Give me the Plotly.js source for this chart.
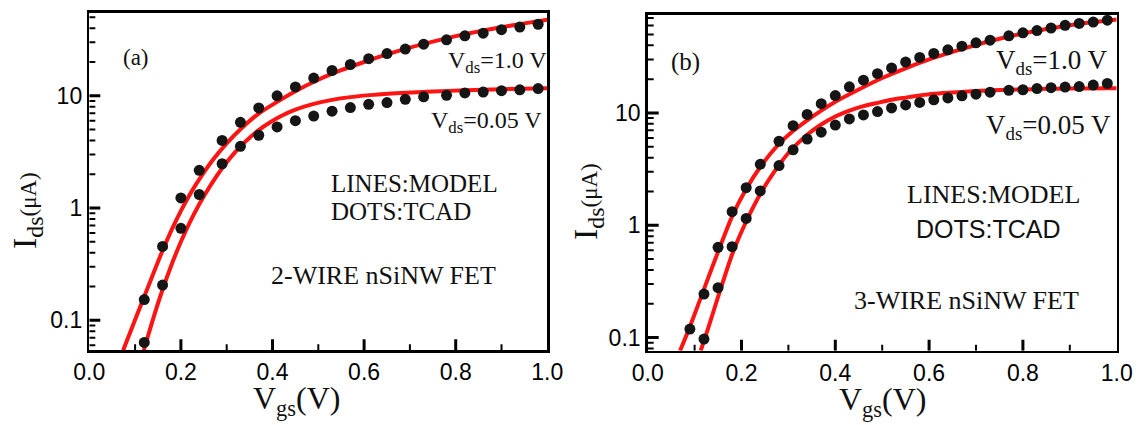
<!DOCTYPE html>
<html><head><meta charset="utf-8">
<script src="https://cdn.plot.ly/plotly-3.0.1.min.js"></script>
<style>html,body{margin:0;padding:0;background:#fff;} #chart{width:1141px;height:425px;}</style>
</head><body><div id="chart"></div>
<script>
// ---------- Panel (a): 2-WIRE nSiNW FET ----------
const vgsA_dots = [0.12,0.16,0.20,0.24,0.29,0.33,0.37,0.41,0.45,0.49,0.53,0.57,0.61,0.65,0.69,0.73,0.78,0.82,0.86,0.90,0.94,0.98];
const idsA_vds1_dots = [0.153,0.455,1.23,2.17,4.0,5.8,7.8,10.0,12.0,14.4,16.8,19.0,21.4,23.8,26.1,28.8,31.5,34.2,36.1,38.8,41.0,43.4];
const idsA_vds005_dots = [0.0634,0.206,0.66,1.32,2.48,3.55,4.45,5.28,6.0,6.6,7.3,7.85,8.4,8.7,9.3,9.8,10.1,10.6,10.8,11.1,11.3,11.6];
const vgsA_model_vds1 = [0.074,0.10,0.12,0.14,0.16,0.18,0.20,0.22,0.24,0.27,0.30,0.33,0.37,0.41,0.45,0.50,0.55,0.60,0.65,0.70,0.75,0.80,0.85,0.90,0.95,1.00];
const idsA_model_vds1 = [0.054,0.101,0.163,0.262,0.418,0.641,0.944,1.33,1.80,2.69,3.77,5.04,6.95,8.83,11.0,13.9,16.9,20.0,23.4,26.9,30.4,34.0,37.5,40.8,44.2,47.6];
const vgsA_model_vds005 = [0.119,0.14,0.16,0.18,0.20,0.22,0.24,0.265,0.29,0.31,0.33,0.35,0.37,0.395,0.42,0.45,0.49,0.53,0.57,0.62,0.68,0.75,0.82,0.90,1.00];
const idsA_model_vds005 = [0.054,0.105,0.188,0.316,0.501,0.752,1.08,1.60,2.26,2.87,3.54,4.23,4.95,5.81,6.64,7.52,8.47,9.20,9.73,10.19,10.57,10.92,11.19,11.44,11.65];

// ---------- Panel (b): 3-WIRE nSiNW FET ----------
const vgsB_dots_vds1 = [0.09,0.12,0.15,0.18,0.21,0.24,0.28,0.31,0.34,0.37,0.40,0.43,0.46,0.49,0.52,0.55,0.58,0.61,0.64,0.67,0.70,0.73,0.77,0.80,0.83,0.86,0.89,0.92,0.95,0.98];
const idsB_vds1_dots = [0.119,0.244,0.637,1.32,2.16,3.49,5.6,7.7,9.7,12.1,14.3,17.1,19.6,22.4,25.2,28.4,31.2,33.9,36.5,39.3,42.1,44.5,48.6,51.7,54.2,57.1,60.3,62.7,64.5,67.0];
const vgsB_dots_vds005 = [0.12,0.15,0.18,0.21,0.24,0.28,0.31,0.34,0.37,0.40,0.43,0.46,0.49,0.52,0.55,0.58,0.61,0.64,0.67,0.70,0.73,0.77,0.80,0.83,0.86,0.89,0.92,0.95,0.98];
const idsB_vds005_dots = [0.097,0.278,0.644,1.15,2.02,3.4,4.7,5.85,6.75,7.8,8.85,9.6,10.3,11.1,11.8,12.4,13.1,13.6,14.2,14.7,15.3,15.9,16.1,16.5,16.8,17.0,17.2,17.7,18.3];
const vgsB_model_vds1 = [0.069,0.09,0.12,0.15,0.18,0.21,0.24,0.28,0.31,0.34,0.37,0.40,0.45,0.50,0.55,0.60,0.65,0.70,0.75,0.80,0.85,0.90,0.95,1.00];
const idsB_model_vds1 = [0.0764,0.125,0.27,0.58,1.2,2.1,3.3,5.3,6.9,8.6,10.5,12.6,16.2,20.5,25.0,30.0,35.0,40.3,45.8,51.0,56.0,60.5,64.5,68.0];
const vgsB_model_vds005 = [0.113,0.13,0.15,0.18,0.21,0.24,0.27,0.30,0.34,0.37,0.40,0.43,0.46,0.49,0.52,0.55,0.58,0.61,0.65,0.70,0.75,0.80,0.85,0.90,1.00];
const idsB_model_vds005 = [0.0764,0.125,0.23,0.55,1.08,1.9,3.0,4.4,6.4,7.9,9.3,10.5,11.5,12.3,13.1,13.7,14.3,14.8,15.2,15.7,16.0,16.2,16.4,16.5,16.6];

// ---------- Texts & ticks ----------
const panelLabels = ['(a)','(b)'];
const vdsLabels = ['V<sub>ds</sub>=1.0 V','V<sub>ds</sub>=0.05 V'];
const legendLines = ['LINES:MODEL','DOTS:TCAD'];
const deviceLabels = ['2-WIRE nSiNW FET','3-WIRE nSiNW FET'];
const xTitle = 'V<sub>gs</sub>(V)';
const yTitle = 'I<sub>ds</sub><span style="font-size:23px">(μA)</span>';
const xMajorTicks = [0,0.2,0.4,0.6,0.8,1.0];
const yMajorTicks = [0.1,1,10];

const W=1141,H=425;
const px=x=>x/W, py=y=>1-y/H;
const SERIF='"Liberation Serif","Times New Roman",serif';
const SANS='Arial,"Liberation Sans",sans-serif';
const RED='#ff1414';
const DOT='#151515';
const TICKC='#000000';

// minor tick positions (axis decoration)
const xMinorTicks=[]; for(let i=1;i<10;i+=2) xMinorTicks.push(i/10);
const yMinorTicks=[]; [0.01,0.1,1,10].forEach(d=>{for(let k=2;k<=9;k++) yMinorTicks.push(+(k*d).toPrecision(3));});

const domAx=[89.3/W,547.3/W], domAy=[1-350.3/H,1-12.7/H];
const domBx=[647.7/W,1116.7/W], domBy=[1-350.7/H,1-14.7/H];
const rA=[Math.log10(0.054),Math.log10(55)], rB=[Math.log10(0.0764),Math.log10(75)];
const hA=(domAy[1]-domAy[0])*H, wA=(domAx[1]-domAx[0])*W;
const hB=(domBy[1]-domBy[0])*H, wB=(domBx[1]-domBx[0])*W;

// inside tick marks as line traces built from the tick arrays (axis decoration)
function tickTrace(xa,ya,range,plotW,plotH,major){
  const xs=[],ys=[];
  const yb=Math.pow(10,range[0]);
  const dec=plotH/(range[1]-range[0]);
  const addX=(v,len)=>{xs.push(v,v,null);ys.push(yb,yb*Math.pow(10,len/dec),null);};
  const addY=(v,len)=>{if(Math.log10(v)<range[0]||Math.log10(v)>range[1])return;xs.push(0,len/plotW,null);ys.push(v,v,null);};
  if(major){xMajorTicks.slice(1,-1).forEach(v=>addX(v,11));yMajorTicks.forEach(v=>addY(v,11));}
  else{xMinorTicks.forEach(v=>addX(v,6));yMinorTicks.forEach(v=>addY(v,6));}
  return {x:xs,y:ys,xaxis:xa,yaxis:ya,mode:'lines',line:{color:TICKC,width:major?3:2},connectgaps:false,hoverinfo:'skip',showlegend:false};
}

function lineTrace(x,y,xa,ya){return {x:x,y:y,xaxis:xa,yaxis:ya,mode:'lines',line:{color:RED,width:4,shape:'spline',smoothing:0.6},hoverinfo:'skip',showlegend:false};}
function dotTrace(x,y,xa,ya){return {x:x,y:y,xaxis:xa,yaxis:ya,mode:'markers',marker:{color:DOT,size:11},showlegend:false};}

const traces = [
  tickTrace('x','y',rA,wA,hA,true),
  tickTrace('x','y',rA,wA,hA,false),
  tickTrace('x2','y2',rB,wB,hB,true),
  tickTrace('x2','y2',rB,wB,hB,false),
  lineTrace(vgsA_model_vds1,idsA_model_vds1,'x','y'),
  lineTrace(vgsA_model_vds005,idsA_model_vds005,'x','y'),
  dotTrace(vgsA_dots,idsA_vds1_dots,'x','y'),
  dotTrace(vgsA_dots,idsA_vds005_dots,'x','y'),
  lineTrace(vgsB_model_vds1,idsB_model_vds1,'x2','y2'),
  lineTrace(vgsB_model_vds005,idsB_model_vds005,'x2','y2'),
  dotTrace(vgsB_dots_vds1,idsB_vds1_dots,'x2','y2'),
  dotTrace(vgsB_dots_vds005,idsB_vds005_dots,'x2','y2')
];

const tickFont={family:SANS,size:23,color:'#000'};
function xAx(domain,anchor){return {domain:domain,anchor:anchor,range:[0,1],tickmode:'array',tickvals:xMajorTicks,ticktext:xMajorTicks.map(v=>v.toFixed(1)),ticks:'',showline:true,linewidth:2.5,linecolor:'#000',mirror:true,showgrid:false,zeroline:false,tickfont:tickFont};}
function yAx(domain,anchor,range){return {domain:domain,anchor:anchor,type:'log',range:range,tickmode:'array',tickvals:yMajorTicks,ticktext:yMajorTicks.map(String),ticks:'',showline:true,linewidth:2.5,linecolor:'#000',mirror:true,showgrid:false,zeroline:false,tickfont:tickFont};}

function ann(text,x,y,size,family,xanchor,opts){return Object.assign({text:text,x:px(x),y:py(y),xref:'paper',yref:'paper',showarrow:false,xanchor:xanchor||'center',yanchor:'middle',font:{family:family,size:size,color:'#111'}},opts||{});}

const annotations = [
  ann(panelLabels[0],136,57,23,SERIF,'center'),
  ann(panelLabels[1],685,62,25,SERIF,'center'),
  ann(vdsLabels[0],549,62,24,SERIF,'right'),
  ann(vdsLabels[1],544,122,24,SERIF,'right'),
  ann(vdsLabels[0],1110,62,27,SERIF,'right'),
  ann(vdsLabels[1],1113,127,27,SERIF,'right'),
  ann(legendLines[0],329,183,25,SERIF,'left'),
  ann(legendLines[1],329,211,25,SERIF,'left'),
  ann(deviceLabels[0],269,275,26,SERIF,'left'),
  ann(legendLines[0],905,194,26,SERIF,'left'),
  ann(legendLines[1],914,229,25,SANS,'left'),
  ann(deviceLabels[1],852,300,26,SERIF,'left'),
  ann(xTitle,296,400,32,SERIF,'center'),
  ann(xTitle,882,401,32,SERIF,'center'),
  ann(yTitle,27,211,34,SERIF,'center',{textangle:-90}),
  ann(yTitle,588,202,34,SERIF,'center',{textangle:-90})
];

const layout = {
  width:W,height:H,margin:{l:0,r:0,t:0,b:0},paper_bgcolor:'#fff',plot_bgcolor:'rgba(0,0,0,0)',showlegend:false,
  xaxis:xAx(domAx,'y'),
  yaxis:yAx(domAy,'x',rA),
  xaxis2:xAx(domBx,'y2'),
  yaxis2:yAx(domBy,'x2',rB),
  annotations:annotations
};
Plotly.newPlot('chart',traces,layout,{displayModeBar:false,staticPlot:true});
</script></body></html>
